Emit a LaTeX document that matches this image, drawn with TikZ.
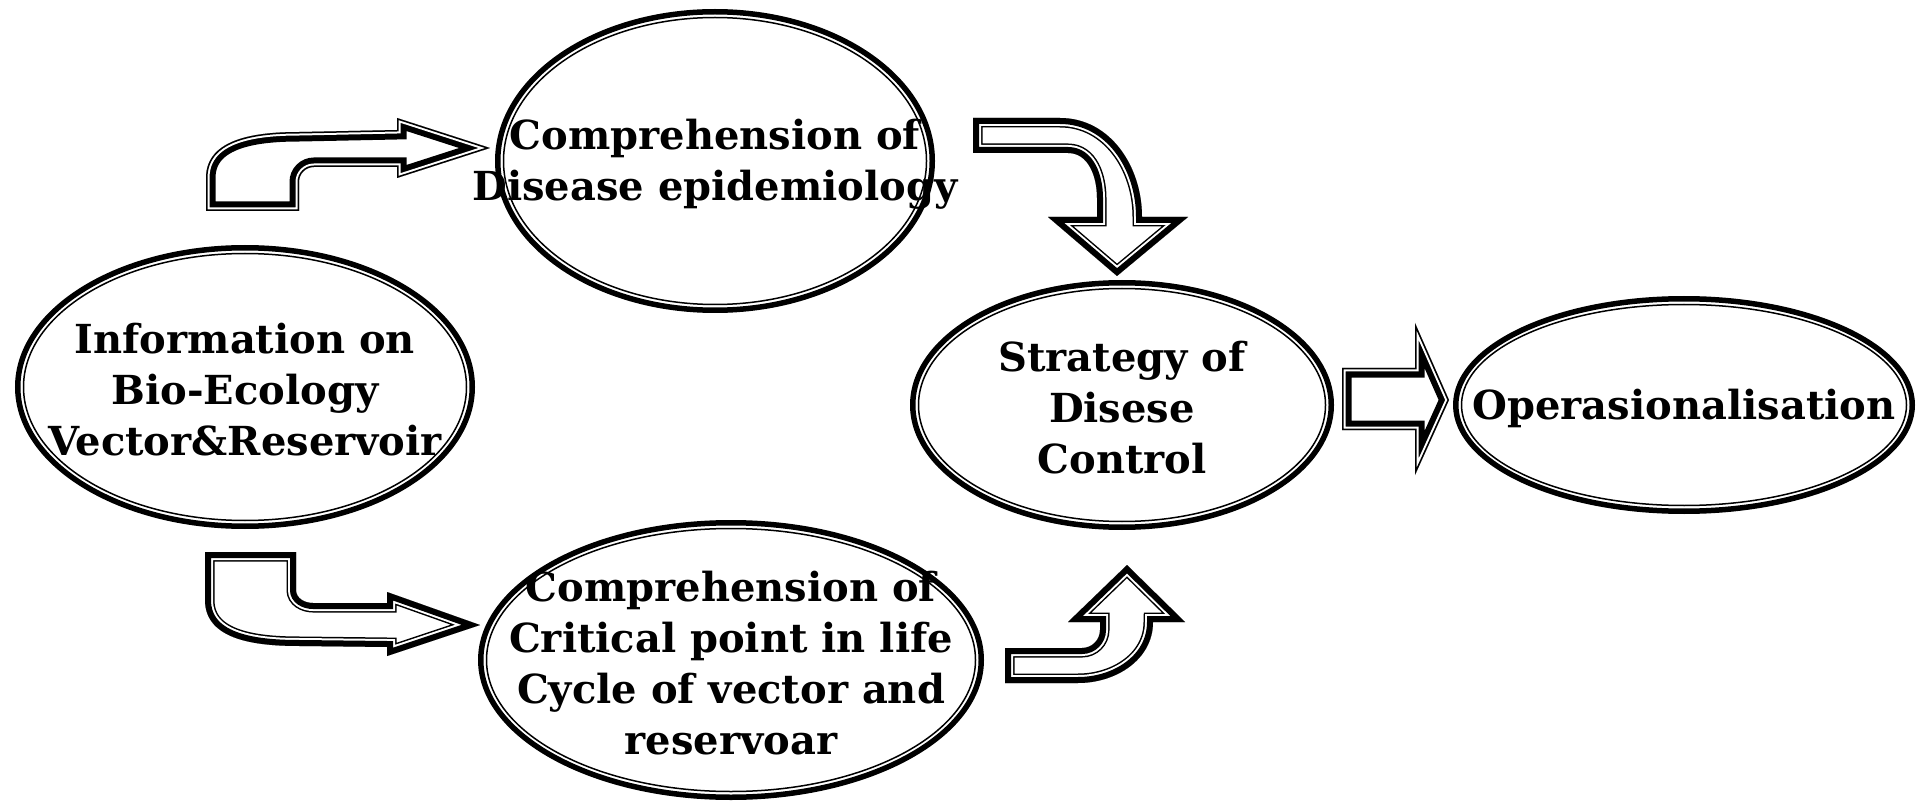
\documentclass[tikz,border=0pt]{standalone}
\usepackage{fontspec}
\setmainfont{DejaVu Serif}

% outline drawn inside a closed path: outer band, gap, inner band
\newcommand{\hollowarrow}[4]{%
  \begin{scope}
    \clip #4;
    \draw[line width={2*(#1+#2+#3)}] #4;
    \draw[white, line width={2*(#1+#2)}] #4;
    \draw[line width={2*#1}] #4;
  \end{scope}}

\tikzset{
  stage rim/.style={line width=5.5pt},
  stage ring/.style={line width=1.5pt},
  stage text/.style={font=\bfseries\fontsize{40}{51}\selectfont, align=center, inner sep=0pt}
}

\begin{document}
\begin{tikzpicture}[x=1pt, y=-1pt]
  \useasboundingbox (0,0) rectangle (1923,802);

  \foreach \n/\x/\y/\rx/\ry/\txt in {
      epi/715/161/220/152/{Comprehension of\\Disease epidemiology},
      info/245/387/230/142/{Information on\\Bio-Ecology\\Vector\&Reservoir},
      life/731/660/253/140/{Comprehension of\\Critical point in life\\Cycle of vector and\\reservoar},
      strategy/1122/405/212/125/{Strategy of\\Disese\\Control},
      oper/1684/405/231/109/{Operasionalisation}}
  {
    \draw[stage rim] (\x,\y) ellipse [x radius=\rx-2.75, y radius=\ry-2.75];
    \draw[stage ring] (\x,\y) ellipse [x radius=\rx-8.5, y radius=\ry-8.5];
    \node[stage text] (\n) at (\x,\y+3) {\txt};
  }

  \hollowarrow{1.5}{2}{6}{(206,211) -- (206,178) to[out=90,in=180] (300,132) -- (397,130)
    -- (397,118) -- (490,148) -- (397,178) -- (397,167) -- (314,167)
    to[out=180,in=90] (299,182) -- (299,211) -- cycle}
  \hollowarrow{6}{2}{1.5}{(205,552) -- (296,552) -- (296,590) to[out=-90,in=180] (313,603)
    -- (387,603) -- (387,592) -- (480,625) -- (387,656) -- (387,647) -- (300,646)
    to[out=180,in=-90] (205,600) -- cycle}
  \hollowarrow{6}{2}{1.5}{(973,118) -- (1060,118) to[out=0,in=90] (1142,217) -- (1188,217)
    -- (1117,276) -- (1048,217) -- (1097,217) -- (1097,198) to[out=90,in=0] (1068,153)
    -- (973,153) -- cycle}
  \hollowarrow{6}{2}{1.5}{(1005,648) -- (1082,648) to[out=0,in=-90] (1100,630) -- (1100,622)
    -- (1068,622) -- (1127,565) -- (1185,622) -- (1153,622) to[out=-90,in=0] (1078,683)
    -- (1005,683) -- cycle}
  \hollowarrow{1.5}{2}{6}{(1342,368) -- (1415,368) -- (1415,323) -- (1449,400)
    -- (1415,475) -- (1415,430) -- (1342,430) -- cycle}
\end{tikzpicture}
\end{document}
